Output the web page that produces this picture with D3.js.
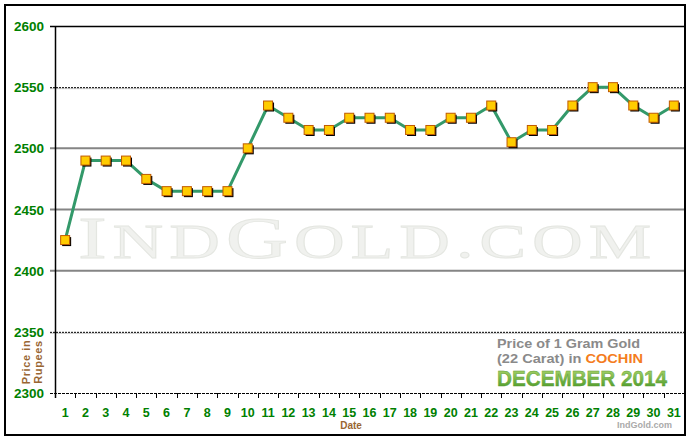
<!DOCTYPE html>
<html><head><meta charset="utf-8">
<script src="https://cdn.jsdelivr.net/npm/d3@7"></script>
<style>body{margin:0;background:#fff;} svg{display:block;}</style>
</head><body>
<svg id="c" width="700" height="440"></svg>
<script>
const days = d3.range(1, 32);
const prices = [2425,2490,2490,2490,2475,2465,2465,2465,2465,2500,2535,2525,2515,2515,2525,2525,2525,2515,2515,2525,2525,2535,2505,2515,2515,2535,2550,2550,2535,2525,2535];
const yTicks = [2300,2350,2400,2450,2500,2550,2600];
const solidGrid = [2400,2450,2500];
const dottedGrid = [2350,2550];

const svg = d3.select("#c");
const L = 55, R = 684, T = 26, B = 393;
const x = d3.scaleBand().domain(days).range([L, R]);
const y = d3.scaleLinear().domain([2300, 2600]).range([B, T]);
const cx = d => x(d) + x.bandwidth() / 2;

const font = "'Liberation Sans', Arial, sans-serif";

// outer border
svg.append("rect").attr("x",5).attr("y",5).attr("width",680).attr("height",430)
  .attr("fill","#fff").attr("stroke","#000").attr("stroke-width",2);

// watermark
const wm = svg.append("text").attr("x",78).attr("y",258)
  .attr("font-family","'Liberation Serif','Times New Roman',serif")
  .attr("fill","#f0f1ee").attr("stroke","#e4e6e1").attr("stroke-width",0.8)
  .attr("letter-spacing",4)
  .attr("textLength",579).attr("lengthAdjust","spacingAndGlyphs");
wm.append("tspan").attr("font-size",59).text("I");
wm.append("tspan").attr("font-size",48).text("ND");
wm.append("tspan").attr("font-size",59).text("G");
wm.append("tspan").attr("font-size",48).text("OLD.COM");

// grid lines
svg.selectAll(".gs").data(solidGrid).join("line")
  .attr("x1",50).attr("x2",R).attr("y1",d=>y(d)).attr("y2",d=>y(d))
  .attr("stroke","#858585").attr("stroke-width",2);
svg.selectAll(".gd").data(dottedGrid).join("g").each(function(d){
  const g = d3.select(this);
  g.append("line").attr("x1",50).attr("x2",R).attr("y1",y(d)+1.5).attr("y2",y(d)+1.5)
    .attr("stroke","#c8c8c8").attr("stroke-width",1);
  g.append("line").attr("x1",50).attr("x2",R).attr("y1",y(d)+0.5).attr("y2",y(d)+0.5)
    .attr("stroke","#000").attr("stroke-width",1).attr("stroke-dasharray","2,1");
});
// bottom axis line (dashed) and top line
svg.append("line").attr("x1",50).attr("x2",R).attr("y1",B+0.5).attr("y2",B+0.5)
  .attr("stroke","#000").attr("stroke-width",1).attr("stroke-dasharray","3,1");
svg.append("line").attr("x1",50).attr("x2",R).attr("y1",T+0.5).attr("y2",T+0.5)
  .attr("stroke","#000").attr("stroke-width",1.5);
// left axis
svg.append("line").attr("x1",L+0.5).attr("x2",L+0.5).attr("y1",T).attr("y2",B+5)
  .attr("stroke","#000").attr("stroke-width",1.5);

// x ticks at band boundaries
svg.selectAll(".xt").data(days.slice(1)).join("line")
  .attr("x1",d=>Math.round(x(d))+0.5).attr("x2",d=>Math.round(x(d))+0.5)
  .attr("y1",B).attr("y2",B+5).attr("stroke","#000").attr("stroke-width",1);

// y labels
svg.selectAll(".yl").data(yTicks).join("text")
  .attr("x",44).attr("y",d=>y(d)+5).attr("text-anchor","end")
  .attr("font-family",font).attr("font-weight","bold").attr("font-size",13.5)
  .attr("fill","#008000").text(d=>d);

// x labels
svg.selectAll(".xl").data(days).join("text")
  .attr("x",d=>cx(d)).attr("y",416.5).attr("text-anchor","middle")
  .attr("font-family",font).attr("font-weight","bold").attr("font-size",12.5)
  .attr("fill","#008000").text(d=>d);

// axis titles
svg.append("text").attr("x",351).attr("y",429).attr("text-anchor","middle")
  .attr("font-family",font).attr("font-weight","bold").attr("font-size",10)
  .attr("fill","#996633").text("Date");
const yt = svg.append("text").attr("transform","translate(30,362) rotate(-90)")
  .attr("text-anchor","middle").attr("font-family",font).attr("font-weight","bold")
  .attr("font-size",11).attr("fill","#996633").attr("letter-spacing",0.6);
yt.append("tspan").attr("x",0).attr("y",0).text("Price in");
yt.append("tspan").attr("x",0).attr("y",12).text("Rupees");

// line
const pts = days.map((d,i)=>[cx(d), y(prices[i])]);
svg.append("path").attr("d", d3.line()(pts)).attr("fill","none")
  .attr("stroke","#33996a").attr("stroke-width",3).attr("stroke-linejoin","round");

// marker shadows and markers
svg.selectAll(".sh").data(pts).join("rect")
  .attr("x",p=>p[0]-3).attr("y",p=>p[1]-3).attr("width",9).attr("height",9).attr("fill","#000");
svg.selectAll(".mk").data(pts).join("rect")
  .attr("x",p=>p[0]-4.5).attr("y",p=>p[1]-4.5).attr("width",9).attr("height",9)
  .attr("fill","#ffcc00").attr("stroke","#c05a00").attr("stroke-width",1);

// legend text
const defs = svg.append("defs");
const gr = defs.append("linearGradient").attr("id","gg").attr("x1",0).attr("x2",0).attr("y1",0).attr("y2",1);
gr.append("stop").attr("offset","0%").attr("stop-color","#b6dc72");
gr.append("stop").attr("offset","100%").attr("stop-color","#3f9322");

svg.append("text").attr("x",497).attr("y",348)
  .attr("font-family",font).attr("font-weight","bold").attr("font-size",12.5)
  .attr("fill","#8a8a8a").attr("textLength",143).attr("lengthAdjust","spacingAndGlyphs")
  .text("Price of 1 Gram Gold");
const l2 = svg.append("text").attr("x",497).attr("y",363)
  .attr("font-family",font).attr("font-weight","bold").attr("font-size",12.5)
  .attr("fill","#8a8a8a").attr("textLength",146).attr("lengthAdjust","spacingAndGlyphs");
l2.append("tspan").text("(22 Carat) in ");
l2.append("tspan").attr("fill","#f47c20").text("COCHIN");
svg.append("text").attr("x",497).attr("y",386)
  .attr("font-family",font).attr("font-weight","bold").attr("font-size",22)
  .attr("fill","url(#gg)").attr("stroke","#5a9a30").attr("stroke-width",0.4)
  .attr("textLength",170).attr("lengthAdjust","spacingAndGlyphs")
  .text("DECEMBER 2014");
svg.append("text").attr("x",672).attr("y",428).attr("text-anchor","end")
  .attr("font-family",font).attr("font-weight","bold").attr("font-size",9)
  .attr("fill","#aaaaaa").text("IndGold.com");
</script>
</body></html>
